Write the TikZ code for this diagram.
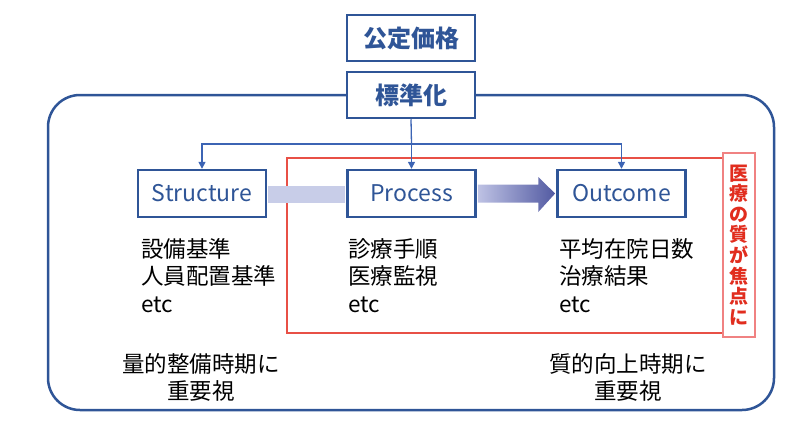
\documentclass[tikz,border=0pt]{standalone}
\usepackage{fontspec}
\setmainfont{Noto Sans CJK JP}
\usetikzlibrary{calc,arrows.meta}
\definecolor{dblue}{RGB}{47,85,151}
\definecolor{lblue}{RGB}{60,100,180}
\definecolor{redline}{RGB}{232,80,70}
\definecolor{redlight}{RGB}{240,130,130}
\definecolor{redtext}{RGB}{225,45,30}
\definecolor{bandc}{RGB}{200,205,232}
\definecolor{arrL}{RGB}{190,194,228}
\definecolor{arrR}{RGB}{82,90,162}
\tikzset{
  topbox/.style={draw=dblue, line width=2.5pt, fill=white, minimum width=128pt, minimum height=46pt, inner sep=0pt,
     text=dblue, font=\fontsize{24}{28}\selectfont\bfseries},
  stagebox/.style={draw=dblue, line width=2.4pt, fill=white, minimum width=128pt, minimum height=47pt, inner sep=0pt,
     text=dblue, font=\fontsize{23}{26}\selectfont},
  listtxt/.style={anchor=north west, align=left, inner sep=0pt, font=\fontsize{22.5}{27.5}\selectfont},
  bottxt/.style={align=center, inner sep=0pt, font=\fontsize{22.5}{27.5}\selectfont},
  conn/.style={draw=lblue, line width=1.3pt},
  tipconn/.style={conn, -{Triangle[length=7pt,width=7pt]}}
}
\begin{document}
\begin{tikzpicture}[x=1pt,y=-1pt]
\useasboundingbox (0,0) rectangle (800,429);
% outer rounded frame
\draw[draw=dblue, line width=2.5pt, rounded corners=32pt] (48,95) rectangle (774,410);
% red focus frame
\draw[draw=redline, line width=2.4pt] (287,158) rectangle (723,333);
% top boxes
\node[topbox] (price) at (411,38) {公定価格};
\node[topbox] (std) at (411,95) {標準化};
% stage boxes
\node[stagebox] (struct) at (202,193.5) {Structure};
\node[stagebox] (proc) at (411.5,193.5) {Process};
\node[stagebox] (out) at (621.5,193.5) {Outcome};
% connectors
\coordinate (j) at (411.5,144);
\draw[conn] (std.south) -- (j);
\draw[tipconn] (j) -| (struct.north);
\draw[tipconn] (j) -- (proc.north);
\draw[tipconn] (j) -| (out.north);
% band between structure and process
\fill[bandc] ($(struct.east)+(1.2,-8)$) rectangle ($(proc.west)+(-1.2,9)$);
% gradient arrow process -> outcome
\shade[left color=arrL, right color=arrR]
  ($(proc.east)+(1.2,-9)$) -- ($(out.west)+(-18,-9)$) -- ($(out.west)+(-18,-16.5)$)
  -- ($(out.west)+(-1.2,0)$) -- ($(out.west)+(-18,18.5)$) -- ($(out.west)+(-18,9)$)
  -- ($(proc.east)+(1.2,9)$) -- cycle;
% lists
\node[listtxt] (l1) at (141,238) {設備基準\\人員配置基準\\etc};
\node[listtxt] (l2) at (348,238) {診療手順\\医療監視\\etc};
\node[listtxt] (l3) at (559,238) {平均在院日数\\治療結果\\etc};
% bottom notes
\node[bottxt] (b1) at (201,377.5) {量的整備時期に\\重要視};
\node[bottxt] (b2) at (628,377.5) {質的向上時期に\\重要視};
% vertical label
\node[draw=redlight, line width=1.4pt, fill=white, minimum width=32pt, minimum height=184pt, inner sep=0pt,
      text=redtext, align=center, font=\fontsize{19}{20.6}\selectfont\bfseries] (lab) at (739,245)
  {医\\療\\の\\質\\が\\焦\\点\\に};
\end{tikzpicture}
\end{document}
